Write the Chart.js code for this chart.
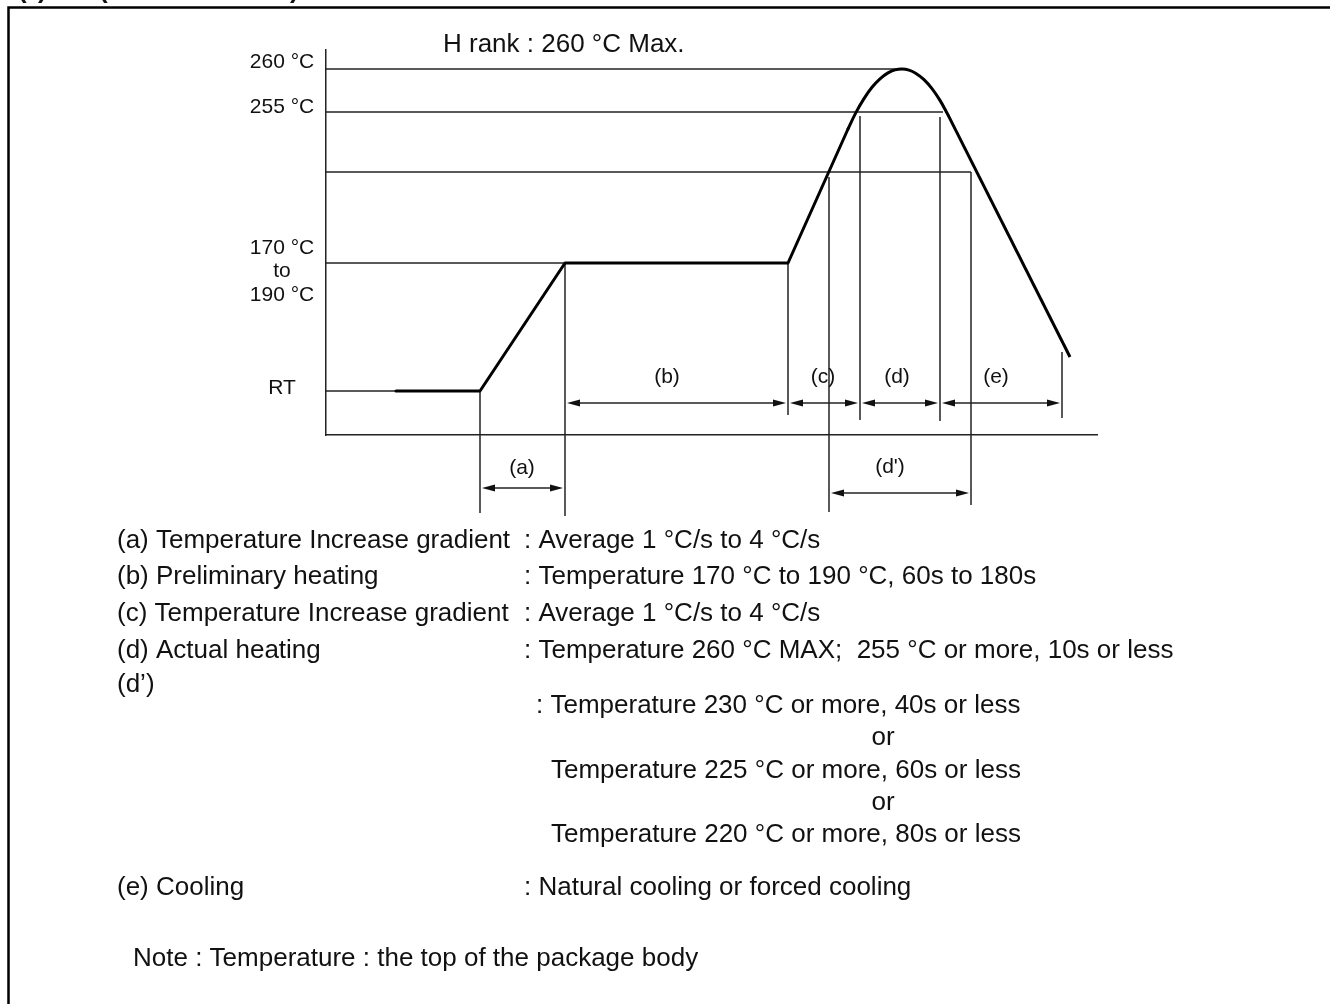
<!DOCTYPE html>
<html>
<head>
<meta charset="utf-8">
<script src="https://cdn.jsdelivr.net/npm/chart.js@4.4.1/dist/chart.umd.min.js"></script>
<style>
  html, body { margin: 0; background: #fff; }
  #wrap { position: relative; width: 1330px; height: 1004px; }
</style>
</head>
<body>
<div id="wrap"><canvas id="reflowChart"></canvas></div>
<script>
// Schematic reflow profile. Units are diagram units (the sketch is not to scale):
// x = time from the temperature axis, y = height above the time axis.
const levelValues = [366, 323, 263, 172, 44];
const levelLabels = [['260 °C'], ['255 °C'], [], ['170 °C', 'to', '190 °C'], ['RT']];
const levelLineEnds = [576, 617, 645, 239, 70];

// RT hold, ramp (a), preheat (b), start of ramp (c)
const rampX = [70, 154, 239, 462, 522];
const rampY = [44, 44, 172, 172, 306];
// rounded peak
const peakX = [522, 530, 538, 546, 554, 562, 569, 576, 583, 590, 598, 606, 614, 622];
const peakY = [306, 322.6, 336.4, 347.7, 356.2, 362.1, 365.1, 366, 364.9, 361.6, 355.4, 346.4, 334.6, 320.1];
// cooling (e)
const coolX = [622, 744];
const coolY = [320.1, 78];

// phase boundary markers (vertical lines)
const markerX = [154, 239, 462, 503, 534, 614, 645, 736];
const markerTop = [44, 172, 172, 258, 319, 318, 263, 83];
const markerBottom = [-78, -81, 20, -77, 15, 14, -70, 17];

// phases (dimension arrows)
const phaseNames = ['(a)', '(b)', '(c)', '(d)', '(e)', "(d')"];
const phaseStart = [154, 239, 462, 534, 614, 503];
const phaseEnd = [239, 462, 534, 614, 736, 645];

const titleText = 'H rank : 260 °C Max.';
const specNames = ['(a) Temperature Increase gradient', '(b) Preliminary heating',
  '(c) Temperature Increase gradient', '(d) Actual heating', '(d’)', '(e) Cooling'];
const specValues = [': Average 1 °C/s to 4 °C/s', ': Temperature 170 °C to 190 °C, 60s to 180s',
  ': Average 1 °C/s to 4 °C/s', ': Temperature 260 °C MAX;  255 °C or more, 10s or less',
  ': Temperature 230 °C or more, 40s or less', ': Natural cooling or forced cooling'];
const dPrimeMore = ['or', 'Temperature 225 °C or more, 60s or less', 'or', 'Temperature 220 °C or more, 80s or less'];
const noteText = 'Note : Temperature : the top of the package body';

const pts = (xs, ys) => xs.map((v, i) => ({ x: v, y: ys[i] }));

// layout of the annotation (pixels / offsets)
const FONT = '"Liberation Sans", Arial, Helvetica, sans-serif';
const phaseRow = [-53, 32, 32, 32, 32, -58];
const phaseLabelX = [196, 341, 497, 571, 670, 564];
const phaseLabelDy = [20, 26, 26, 26, 26, 26];
const specRowsY = [541, 577, 614, 651, 706, 888];
const dPrimeRowsY = [738, 771, 803, 835];

function seg(ctx, x1, y1, x2, y2) {
  ctx.beginPath(); ctx.moveTo(x1, y1); ctx.lineTo(x2, y2); ctx.stroke();
}
function head(ctx, xt, yy, dir) {
  ctx.beginPath();
  ctx.moveTo(xt, yy);
  ctx.lineTo(xt + dir * 13, yy - 3.5);
  ctx.lineTo(xt + dir * 13, yy + 3.5);
  ctx.closePath(); ctx.fill();
}

const diagram = {
  id: 'diagram',
  beforeDatasetsDraw(chart) {
    const { ctx, scales: { x, y } } = chart;
    ctx.save();
    ctx.strokeStyle = '#222';
    ctx.fillStyle = '#111';
    ctx.lineWidth = 1.5;
    levelValues.forEach((v, i) => seg(ctx, x.getPixelForValue(0), y.getPixelForValue(v),
      x.getPixelForValue(levelLineEnds[i]), y.getPixelForValue(v)));
    markerX.forEach((v, i) => seg(ctx, x.getPixelForValue(v), y.getPixelForValue(markerTop[i]),
      x.getPixelForValue(v), y.getPixelForValue(markerBottom[i])));
    phaseNames.forEach((n, i) => {
      const yy = y.getPixelForValue(phaseRow[i]);
      const x1 = x.getPixelForValue(phaseStart[i]) + 2;
      const x2 = x.getPixelForValue(phaseEnd[i]) - 2;
      seg(ctx, x1 + 8, yy, x2 - 8, yy);
      head(ctx, x1, yy, 1);
      head(ctx, x2, yy, -1);
    });
    ctx.restore();
  },
  afterDraw(chart) {
    const { ctx, scales: { x, y } } = chart;
    ctx.save();
    ctx.fillStyle = '#111';
    ctx.textBaseline = 'middle';

    // temperature labels on the axis
    ctx.font = '21px ' + FONT;
    ctx.textAlign = 'center';
    const labelOffsets = [-7, -5, 0, -15, -3];
    levelLabels.forEach((lines, i) => {
      const base = y.getPixelForValue(levelValues[i]) + labelOffsets[i];
      lines.forEach((t, k) => ctx.fillText(t, 282, base + k * 23.5));
    });

    // phase labels
    phaseNames.forEach((n, i) => {
      const yy = y.getPixelForValue(phaseRow[i]) - phaseLabelDy[i];
      ctx.fillText(n, x.getPixelForValue(phaseLabelX[i]), yy);
    });

    ctx.font = '26px ' + FONT;
    ctx.textAlign = 'left';
    ctx.fillText(titleText, 443, 45);

    specNames.forEach((t, i) => ctx.fillText(t, 117, i === 4 ? 685 : specRowsY[i]));
    specValues.forEach((t, i) => ctx.fillText(t, i === 4 ? 536 : 524, specRowsY[i]));
    dPrimeMore.forEach((t, i) => {
      if (t === 'or') { ctx.textAlign = 'center'; ctx.fillText(t, 883, dPrimeRowsY[i]); }
      else { ctx.textAlign = 'left'; ctx.fillText(t, 551, dPrimeRowsY[i]); }
    });
    ctx.textAlign = 'left';
    ctx.fillText(noteText, 133, 959);

    // frame
    ctx.strokeStyle = '#000';
    ctx.lineWidth = 2.5;
    ctx.beginPath();
    ctx.moveTo(8.5, 1004); ctx.lineTo(8.5, 7.5); ctx.lineTo(1330, 7.5);
    ctx.stroke();

    // tails of the clipped heading above the frame
    ctx.font = 'bold 26px ' + FONT;
    ctx.textBaseline = 'alphabetic';
    [['(', 18], [')', 38], ['(', 99], [')', 290]].forEach(([c, cx]) => ctx.fillText(c, cx, -2));
    ctx.restore();
  }
};

const lineStyle = { borderColor: '#000', borderWidth: 3, fill: false, pointRadius: 0, borderCapStyle: 'round', borderJoinStyle: 'round' };

new Chart(document.getElementById('reflowChart').getContext('2d'), {
  type: 'line',
  data: {
    datasets: [
      { ...lineStyle, label: 'Preheat', data: pts(rampX, rampY), tension: 0 },
      { ...lineStyle, label: 'Peak', data: pts(peakX, peakY), tension: 0.4 },
      { ...lineStyle, label: 'Cooling', data: pts(coolX, coolY), tension: 0, borderCapStyle: 'butt' }
    ]
  },
  options: {
    responsive: true,
    maintainAspectRatio: false,
    animation: false,
    events: [],
    layout: { padding: { left: 326, top: 50, right: 233, bottom: 569 } },
    plugins: { legend: { display: false }, tooltip: { enabled: false } },
    scales: {
      x: {
        type: 'linear', min: 0, max: 771,
        grid: { display: false, drawTicks: false },
        ticks: { display: false },
        border: { color: '#222', width: 1.5 },
        afterFit(s) { s.height = 0; }
      },
      y: {
        type: 'linear', min: 0, max: 385,
        grid: { display: false, drawTicks: false },
        ticks: { display: false },
        border: { color: '#222', width: 1.5 },
        afterFit(s) { s.width = 0; }
      }
    }
  },
  plugins: [diagram]
});
</script>
</body>
</html>
